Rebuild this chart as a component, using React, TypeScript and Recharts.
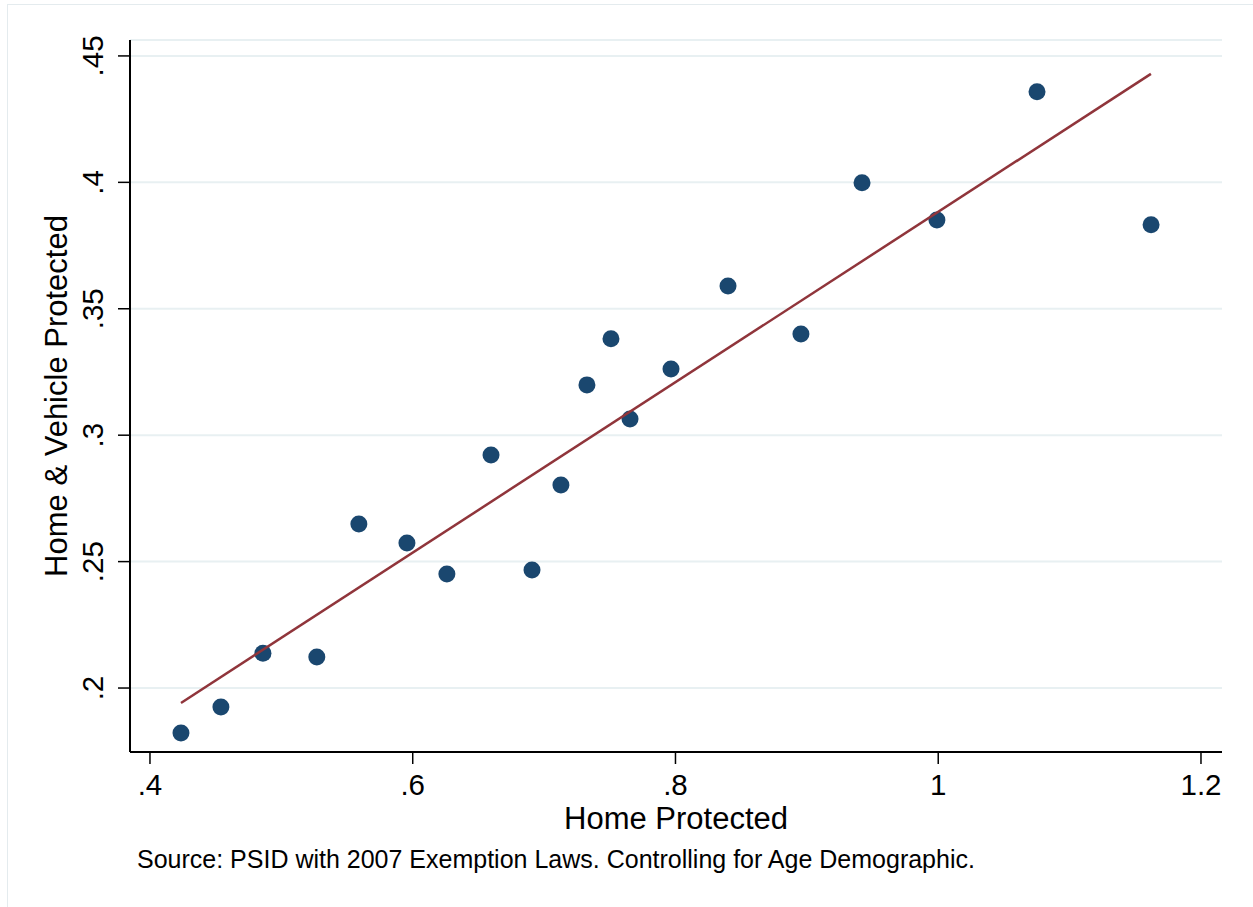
import React from "react";
import {
  ScatterChart, Scatter, XAxis, YAxis, CartesianGrid,
} from "recharts";

// binned scatter: home protected (x) vs home & vehicle protected (y)
const homeProtected = [
  0.4236, 0.454, 0.486, 0.527, 0.559, 0.5956, 0.626, 0.6596, 0.6908, 0.7128,
  0.7326, 0.7509, 0.7654, 0.7966, 0.84, 0.8955, 0.942, 0.999, 1.0752, 1.162,
];
const homeVehicleProtected = [
  0.1822, 0.1925, 0.2138, 0.2123, 0.2649, 0.2574, 0.2451, 0.2922, 0.2467, 0.2803,
  0.3199, 0.3381, 0.3064, 0.3262, 0.359, 0.34, 0.3998, 0.3851, 0.4358, 0.3832,
];

// fitted line end points
const fitX = [0.4236, 1.1619];
const fitY = [0.1941, 0.4429];

const xTicks = [0.4, 0.6, 0.8, 1, 1.2];
const yTicks = [0.2, 0.25, 0.3, 0.35, 0.4, 0.45];

const NAVY = "#1a476f";
const MAROON = "#90353b";
const GRID = "#e8f0f2";
const FONT = "'Liberation Sans', Arial, Helvetica, sans-serif";

const fmt = (v: number) => String(v).replace(/^0\./, ".");

const points = homeProtected.map((x, i) => ({ x, y: homeVehicleProtected[i] }));
const fit = fitX.map((x, i) => ({ x, y: fitY[i] }));

const XTick = ({ x, y, payload }: any) => (
  <text x={x} y={y} dy={27} textAnchor="middle" fontSize={29.5} fontFamily={FONT} fill="#000">
    {fmt(payload.value)}
  </text>
);

const YTick = ({ x, y, payload }: any) => (
  <text
    x={x}
    y={y}
    textAnchor="middle"
    fontSize={29.5}
    fontFamily={FONT}
    fill="#000"
    transform={`rotate(-90, ${x}, ${y})`}
  >
    {fmt(payload.value)}
  </text>
);

const Dot = ({ cx, cy }: any) => <circle cx={cx} cy={cy} r={8.5} fill={NAVY} />;

export default function App() {
  return (
    <div style={{ position: "absolute", left: 0, top: 0, width: 1253, height: 907, background: "#fff" }}>
      <div
        style={{
          position: "absolute", left: 7, top: 4, width: 1250, height: 905,
          border: "1px solid #e4ebee", boxSizing: "border-box",
        }}
      />
      <ScatterChart
        width={1253}
        height={907}
        margin={{ top: 40, right: 31, bottom: 55, left: 30 }}
        style={{ position: "absolute", left: 0, top: 0 }}
      >
        <CartesianGrid vertical={false} stroke={GRID} strokeWidth={2} />
        <XAxis
          type="number"
          dataKey="x"
          domain={[0.3848, 1.216]}
          ticks={xTicks}
          height={100}
          tickSize={12}
          tickMargin={4}
          tick={<XTick />}
          axisLine={{ stroke: "#000", strokeWidth: 2 }}
          tickLine={{ stroke: "#000", strokeWidth: 1.5 }}
          label={{
            content: ({ viewBox }: any) => (
              <text
                x={viewBox.x + viewBox.width / 2}
                y={viewBox.y + 77}
                textAnchor="middle"
                fontSize={31}
                fontFamily={FONT}
                fill="#000"
              >
                Home Protected
              </text>
            ),
          }}
        />
        <YAxis
          type="number"
          dataKey="y"
          domain={[0.1747, 0.4563]}
          ticks={yTicks}
          width={100}
          tickSize={12}
          tickMargin={15}
          tick={<YTick />}
          axisLine={{ stroke: "#000", strokeWidth: 2 }}
          tickLine={{ stroke: "#000", strokeWidth: 1.5 }}
          label={{
            content: ({ viewBox }: any) => {
              const cx = 67;
              const cy = viewBox.y + viewBox.height / 2;
              return (
                <text
                  x={cx}
                  y={cy}
                  textAnchor="middle"
                  fontSize={31}
                  fontFamily={FONT}
                  fill="#000"
                  transform={`rotate(-90, ${cx}, ${cy})`}
                >
                  Home &amp; Vehicle Protected
                </text>
              );
            },
          }}
        />
        <Scatter data={points} shape={<Dot />} isAnimationActive={false} />
        <Scatter
          data={fit}
          line={{ stroke: MAROON, strokeWidth: 2.5 }}
          shape={() => <g />}
          isAnimationActive={false}
        />
      </ScatterChart>
      <div
        style={{
          position: "absolute", left: 137, top: 847, fontSize: 25, lineHeight: "25px",
          fontFamily: FONT, color: "#000", whiteSpace: "nowrap",
        }}
      >
        Source: PSID with 2007 Exemption Laws. Controlling for Age Demographic.
      </div>
    </div>
  );
}
